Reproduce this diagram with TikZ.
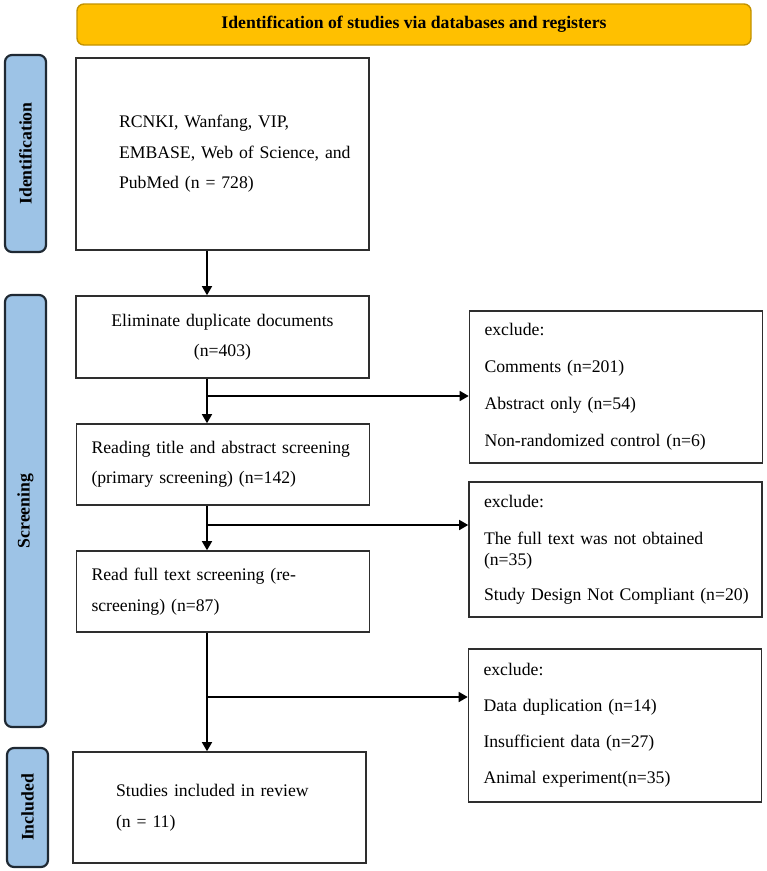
\documentclass[tikz,border=0pt]{standalone}
\usepackage{fontspec}
\setmainfont{Liberation Serif}
\usetikzlibrary{arrows.meta, calc}

\definecolor{bannergold}{HTML}{FFC000}
\definecolor{bannerrim}{HTML}{C39200}
\definecolor{stageblue}{HTML}{9DC3E6}
\definecolor{stagerim}{HTML}{1F2933}
\definecolor{boxrim}{HTML}{2E2E2E}

\begin{document}
\begin{tikzpicture}[x=1pt, y=-1pt,
		banner/.style={draw=bannerrim, line width=1.4pt, fill=bannergold, rounded corners=7pt,
			minimum width=674pt, minimum height=41pt, inner sep=0pt,
			font=\fontsize{17.7}{21}\selectfont\bfseries},
		stage/.style={draw=stagerim, line width=2.2pt, fill=stageblue, rounded corners=7pt,
			rotate=90, minimum height=41pt, inner sep=0pt,
			font=\fontsize{17.7}{21}\selectfont\bfseries},
		flowbox/.style={draw=boxrim, line width=1.6pt, fill=white, inner ysep=0pt,
			align=left, font=\fontsize{17.7}{30.5}\selectfont},
		exclbox/.style={draw=boxrim, line width=1.6pt, fill=white, inner ysep=0pt,
			inner xsep=15pt, text width=263pt, minimum width=293pt, align=left,
			font=\fontsize{17.7}{21}\selectfont},
		flow/.style={line width=1.5pt, -{Triangle[length=9pt, width=10pt]}}]
	\useasboundingbox (0,0) rectangle (767,871);

	% header band and the three stage tabs down the left edge
	\node[banner] (head) at (414,24.5) {Identification of studies via databases and registers};
	\node[stage, minimum width=197pt] (tabid) at (25.5,153.5) {Identification};
	\node[stage, minimum width=432pt] (tabscr) at (25.5,511) {Screening};
	\node[stage, minimum width=119pt] (tabinc) at (27.5,807.5) {Included};

	% main column
	\node[flowbox, inner xsep=43pt, text width=207pt, minimum height=192pt] (src) at (222.5,154)
		{RCNKI, Wanfang, VIP,\\ \mbox{EMBASE, Web of Science, and}\\ PubMed (n = 728)};
	\node[flowbox, align=center, inner xsep=15pt, text width=263pt, minimum height=82pt] (dup) at (222.5,337)
		{Eliminate duplicate documents\\ (n=403)};
	\node[flowbox, inner xsep=15pt, text width=263pt, minimum height=81pt] (title) at (223,464.5)
		{Reading title and abstract screening\\ (primary screening) (n=142)};
	\node[flowbox, inner xsep=15pt, text width=263pt, minimum height=81pt] (full) at (223,591.5)
		{Read full text screening (re-\\ screening) (n=87)};
	\node[flowbox, inner xsep=43pt, text width=207pt, minimum height=111pt] (incl) at (219.5,807.5)
		{Studies included in review\\ (n = 11)};

	% exclusion boxes on the right
	\node[exclbox, minimum height=152pt] (ex1) at (616,387)
		{exclude:\\[16pt] Comments (n=201)\\[16pt] Abstract only (n=54)\\[16pt] Non-randomized control (n=6)};
	\node[exclbox, minimum height=135pt] (ex2) at (615.5,549.5)
		{exclude:\\[16pt] The full text was not obtained\\ (n=35)\\[14pt] \mbox{Study Design Not Compliant (n=20)}};
	\node[exclbox, minimum height=153pt] (ex3) at (615,725.5)
		{exclude:\\[15pt] Data duplication (n=14)\\[15pt] Insufficient data (n=27)\\[15pt] Animal experiment(n=35)};

	% the spine sits left of the box centres, as drawn
	\coordinate (spine) at (207,0);
	\draw[flow] (src.south -| spine) -- (dup.north -| spine);
	\draw[flow] (dup.south -| spine) -- (title.north -| spine);
	\draw[flow] (title.south -| spine) -- (full.north -| spine);
	\draw[flow] (full.south -| spine) -- (incl.north -| spine);

	\coordinate (fork1) at (207,396);
	\coordinate (fork2) at (207,525);
	\coordinate (fork3) at (207,697);
	\draw[flow] (fork1) -- (fork1 -| ex1.west);
	\draw[flow] (fork2) -- (fork2 -| ex2.west);
	\draw[flow] (fork3) -- (fork3 -| ex3.west);
\end{tikzpicture}
\end{document}
